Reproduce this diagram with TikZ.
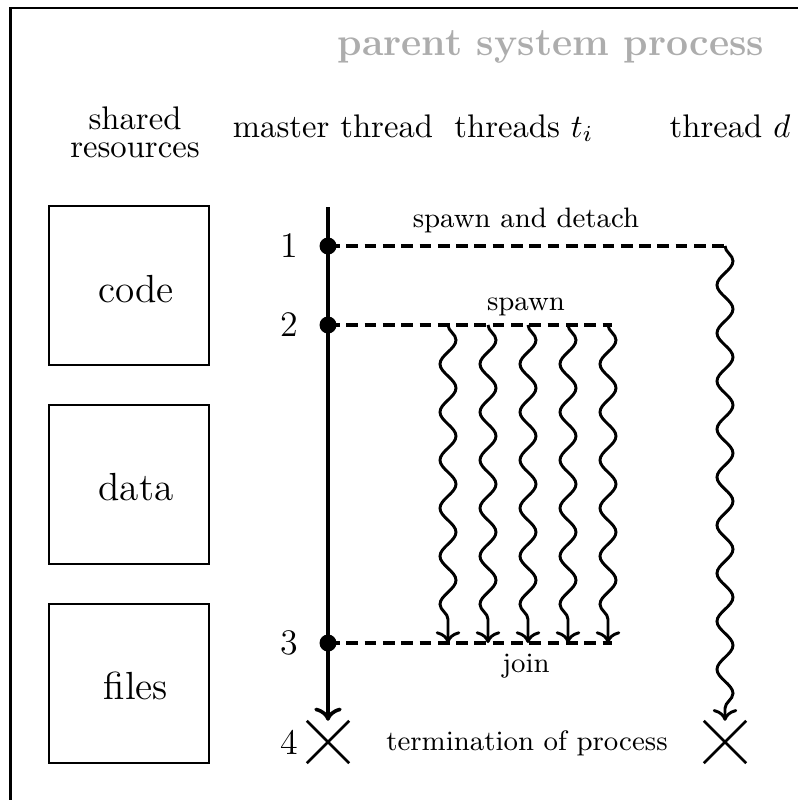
\documentclass[tikz,border=0pt]{standalone}
\usetikzlibrary{decorations.pathmorphing,shapes.misc,arrows.meta}
\begin{document}
\begin{tikzpicture}[x=0.306pt,y=-0.306pt,
  resbox/.style={draw, line width=0.45pt, minimum width=48.96pt,
    minimum height=48.65pt, inner sep=0pt},
  reslabel/.style={font=\fontsize{12}{14}\selectfont},
  head/.style={font=\fontsize{10}{12}\selectfont, anchor=base},
  headline/.style={font=\fontsize{10}{12}\selectfont, anchor=base, inner sep=0.5pt},
  title/.style={font=\fontsize{12}{14}\selectfont\bfseries, text=black!32, anchor=base},
  note/.style={font=\fontsize{8.6}{10}\selectfont, anchor=base},
  stepnum/.style={font=\fontsize{11}{13}\selectfont},
  event/.style={circle, fill, inner sep=0pt, minimum size=5.2pt},
  stop/.style={cross out, draw, line width=0.8pt, minimum size=12.2pt, inner sep=0pt},
  mainline/.style={line width=1.1pt, -{To}},
  forkline/.style={line width=1pt, dash pattern=on 3.6pt off 2pt},
  worker/.style={line width=0.9pt, -{To}, decorate,
    decoration={snake, amplitude=2.45pt, segment length=14.7pt, post length=2.5pt}},
]
\useasboundingbox (0,0) rectangle (798,800);

% outer frame of the process (runs past the page edge on the right and bottom)
\begin{scope}
  \clip (0,0) rectangle (798,800);
  \draw[line width=0.75pt] (10.5,8) rectangle (860,860);
\end{scope}

% headings
\node[title] (proc) at (551,55) {parent system process};
\node[headline] (shared1) at (135,129) {shared};
\node[headline] (shared2) at (135,157) {resources};
\node[head] (hmaster) at (333,137) {master thread};
\node[head] (hthreads) at (524,137) {threads $t_i$};
\node[head] (hdetach) at (730,137) {thread $d$};

% shared resources
\node[resbox] (code) at (129,285.5) {};
\node[resbox] (data) at (129,484.5) {};
\node[resbox] (files) at (129,683.5) {};
\node[reslabel] (codetxt) at (136,289) {code};
\node[reslabel] (datatxt) at (136,487) {data};
\node[reslabel] (filestxt) at (136,686) {files};

% master thread events
\coordinate (mtop) at (328,207);
\node[event] (p1) at (328,246) {};
\node[event] (p2) at (328,325) {};
\node[event] (p3) at (328,643) {};
\node[stop] (x4) at (328,742) {};
\node[stepnum] (n1) at (289,246) {1};
\node[stepnum] (n2) at (289,325) {2};
\node[stepnum] (n3) at (289,643) {3};
\node[stepnum] (n4) at (289,742) {4};
\draw[mainline] (mtop) -- (x4.north);

% detached thread
\coordinate (d1) at (725,246);
\node[stop] (x5) at (725,742) {};
\draw[forkline] (p1.center) -- (d1);
\draw[worker] (d1) -- (x5.north);
\node[note] (ldetach) at (526,227) {spawn and detach};

% spawned threads and join
\coordinate (s2) at (612,325);
\coordinate (j3) at (612,643);
\draw[forkline] (p2.center) -- (s2);
\draw[forkline] (p3.center) -- (j3);
\foreach \x [count=\i] in {448,488,528,568,608} {
  \coordinate (ts\i) at (\x,325);
  \coordinate (te\i) at (\x,643);
  \draw[worker] (ts\i) -- (te\i);
}
\node[note] (lspawn) at (526,310) {spawn};
\node[note] (ljoin) at (526,672) {join};
\node[note] (lterm) at (527,750) {termination of process};
\end{tikzpicture}
\end{document}
